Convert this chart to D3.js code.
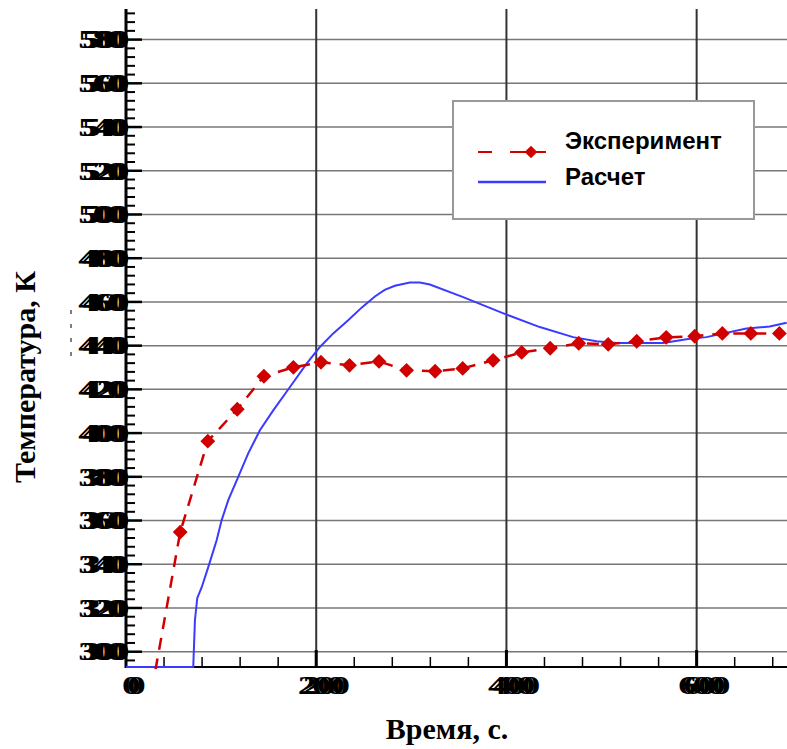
<!DOCTYPE html>
<html lang="ru">
<head>
  <meta charset="UTF-8">
  <title>Температура</title>
  <script src="https://d3js.org/d3.v7.min.js"></script>
  <style>
    body { margin: 0; background: #fff; }
    svg { display: block; }
    .tick-label { font-family: "Liberation Serif", "Times New Roman", serif; font-size: 25px; font-weight: bold; fill: #000; }
    .axis-title { font-family: "Liberation Serif", "Times New Roman", serif; font-size: 30px; font-weight: bold; fill: #000; }
    .legend-text { font-family: "Liberation Sans", Arial, sans-serif; font-size: 24px; font-weight: bold; fill: #000; }
  </style>
</head>
<body>
<svg id="chart" width="787" height="749"></svg>
<script>
  // experiment (red diamonds), first point lies below the visible range
  const expTime = [27, 57, 86, 117, 145, 176, 205, 235, 266, 295, 325, 354, 386, 416, 446, 476, 507, 537, 568, 598, 627, 657, 687];
  const expTemp = [282, 354.7, 396.3, 410.9, 426, 430.1, 432.4, 431, 432.8, 428.7, 428.3, 429.6, 433.3, 436.9, 438.8, 441.1, 440.6, 442, 443.8, 444.3, 445.6, 445.6, 445.6];

  // calculation (blue line)
  const calcTime = [0, 70.7, 72.5, 74.9, 79.6, 86.5, 95.3, 100.6, 107.5, 118, 128.5, 140.8, 154.8, 172.4, 189.9, 203.9, 217.9, 233.6, 248, 261.7, 272, 282.7, 298.5, 309, 319.5, 354.5, 400.1, 435.1, 470.1, 494.7, 515.7, 564.7, 592.7, 610.3, 652.3, 676.8, 694.7];
  const calcTemp = [293, 293, 314.5, 324.5, 329.5, 338.7, 351, 360.2, 369.3, 380, 390.7, 401.3, 410.4, 421.1, 431.8, 439.4, 445.6, 451.6, 457.5, 462.5, 465.5, 467.4, 468.9, 468.9, 468, 462.2, 454.2, 448.5, 443.9, 442, 441.2, 441.2, 443.2, 443.9, 447.8, 448.8, 450.5];

  const xTicks = [0, 200, 400, 600];
  const yTicks = [300, 320, 340, 360, 380, 400, 420, 440, 460, 480, 500, 520, 540, 560, 580];

  const seriesNames = ["Эксперимент", "Расчет"];
  const xTitle = "Время, с.";
  const yTitle = "Температура, К";

  const plot = { left: 126, right: 787, top: 9, bottom: 667 };
  const red = "#d00000";
  const blue = "#3b3bff";

  const x = d3.scaleLinear().domain([0, 695]).range([plot.left, plot.right]);
  const y = d3.scaleLinear().domain([293, 594]).range([plot.bottom, plot.top]);

  const svg = d3.select("#chart");

  svg.append("defs").append("clipPath").attr("id", "clip")
    .append("rect")
    .attr("x", plot.left).attr("y", plot.top)
    .attr("width", plot.right - plot.left)
    .attr("height", plot.bottom - plot.top + 2);

  // grid lines
  svg.append("g").selectAll("line")
    .data(yTicks)
    .join("line")
    .attr("x1", plot.left).attr("x2", plot.right)
    .attr("y1", d => y(d)).attr("y2", d => y(d))
    .attr("stroke", "#777").attr("stroke-width", 1.5);

  svg.append("g").selectAll("line")
    .data(xTicks.filter(d => d > 0))
    .join("line")
    .attr("x1", d => x(d)).attr("x2", d => x(d))
    .attr("y1", plot.top).attr("y2", plot.bottom)
    .attr("stroke", "#333").attr("stroke-width", 2);

  // minor / major ticks on the left axis
  const yMinor = d3.range(296, 594, 4).filter(v => v % 20 !== 0);
  svg.append("g").selectAll("line")
    .data(yMinor)
    .join("line")
    .attr("x1", plot.left).attr("x2", plot.left + 9)
    .attr("y1", d => y(d)).attr("y2", d => y(d))
    .attr("stroke", "#000").attr("stroke-width", 2);

  svg.append("g").selectAll("line")
    .data(yTicks)
    .join("line")
    .attr("x1", plot.left).attr("x2", plot.left + 16)
    .attr("y1", d => y(d)).attr("y2", d => y(d))
    .attr("stroke", "#000").attr("stroke-width", 2.5);

  // minor / major ticks on the bottom axis
  const xMinor = d3.range(40, 695, 40).filter(v => v % 200 !== 0);
  svg.append("g").selectAll("line")
    .data(xMinor)
    .join("line")
    .attr("x1", d => x(d)).attr("x2", d => x(d))
    .attr("y1", plot.bottom).attr("y2", plot.bottom - 10)
    .attr("stroke", "#000").attr("stroke-width", 1.5);

  svg.append("g").selectAll("line")
    .data(xTicks.filter(d => d > 0))
    .join("line")
    .attr("x1", d => x(d)).attr("x2", d => x(d))
    .attr("y1", plot.bottom).attr("y2", plot.bottom - 17)
    .attr("stroke", "#000").attr("stroke-width", 3);

  // axis lines
  svg.append("line")
    .attr("x1", plot.left).attr("x2", plot.left)
    .attr("y1", plot.top).attr("y2", plot.bottom + 1)
    .attr("stroke", "#000").attr("stroke-width", 3);
  svg.append("line")
    .attr("x1", plot.left).attr("x2", plot.right)
    .attr("y1", plot.bottom).attr("y2", plot.bottom)
    .attr("stroke", "#000").attr("stroke-width", 2);

  // tick labels: stretched and drawn twice with a small shift, as in the original
  function doubledLabel(g, text, px, py, anchor, shift) {
    [0, shift].forEach(dx => {
      g.append("text")
        .attr("class", "tick-label")
        .attr("transform", `translate(${px + dx},${py}) scale(1.5,1)`)
        .attr("text-anchor", anchor)
        .attr("dy", "0.35em")
        .attr("letter-spacing", -3)
        .text(text);
    });
  }

  const yLab = svg.append("g");
  yTicks.forEach(v => doubledLabel(yLab, v, plot.left - 5, y(v), "end", 4));

  const xLab = svg.append("g");
  xTicks.forEach(v => doubledLabel(xLab, v, x(v) + 3, 685, "middle", 5));

  // axis titles
  svg.append("text")
    .attr("class", "axis-title")
    .attr("x", 447).attr("y", 739)
    .attr("text-anchor", "middle")
    .text(xTitle);

  svg.append("text")
    .attr("class", "axis-title")
    .attr("transform", "translate(35,377) rotate(-90)")
    .attr("text-anchor", "middle")
    .attr("font-size", 31)
    .text(yTitle);

  // small stray marks near the y title
  svg.append("line")
    .attr("x1", 71).attr("x2", 71)
    .attr("y1", 310).attr("y2", 360)
    .attr("stroke", "#555").attr("stroke-width", 1.5)
    .attr("stroke-dasharray", "4,10");

  // data
  const data = svg.append("g").attr("clip-path", "url(#clip)");

  const calcData = calcTime.map((t, i) => ({ t, v: calcTemp[i] }));
  const expData = expTime.map((t, i) => ({ t, v: expTemp[i] }));

  const line = d3.line().x(d => x(d.t)).y(d => y(d.v));

  data.append("path")
    .datum(calcData)
    .attr("d", line)
    .attr("fill", "none")
    .attr("stroke", blue)
    .attr("stroke-width", 2);

  data.append("path")
    .datum(expData)
    .attr("d", line)
    .attr("fill", "none")
    .attr("stroke", red)
    .attr("stroke-width", 2.5)
    .attr("stroke-dasharray", "12,9");

  const diamond = d3.symbol().type(d3.symbolSquare).size(110);
  data.selectAll(".marker")
    .data(expData)
    .join("path")
    .attr("class", "marker")
    .attr("d", diamond)
    .attr("transform", d => `translate(${x(d.t)},${y(d.v)}) rotate(45)`)
    .attr("fill", red);

  // legend
  const legend = svg.append("g");
  legend.append("rect")
    .attr("x", 453).attr("y", 101)
    .attr("width", 301).attr("height", 118)
    .attr("fill", "#fff")
    .attr("stroke", "#999").attr("stroke-width", 2);

  legend.append("line")
    .attr("x1", 478).attr("x2", 546)
    .attr("y1", 152).attr("y2", 152)
    .attr("stroke", red).attr("stroke-width", 2)
    .attr("stroke-dasharray", "14,18,36");
  legend.append("path")
    .attr("d", d3.symbol().type(d3.symbolSquare).size(80))
    .attr("transform", "translate(531,152) rotate(45)")
    .attr("fill", red);

  legend.append("line")
    .attr("x1", 478).attr("x2", 546)
    .attr("y1", 182).attr("y2", 182)
    .attr("stroke", blue).attr("stroke-width", 2.5);

  legend.selectAll(".legend-text")
    .data(seriesNames)
    .join("text")
    .attr("class", "legend-text")
    .attr("x", 565)
    .attr("y", (d, i) => 149 + i * 36)
    .text(d => d);
</script>
</body>
</html>
